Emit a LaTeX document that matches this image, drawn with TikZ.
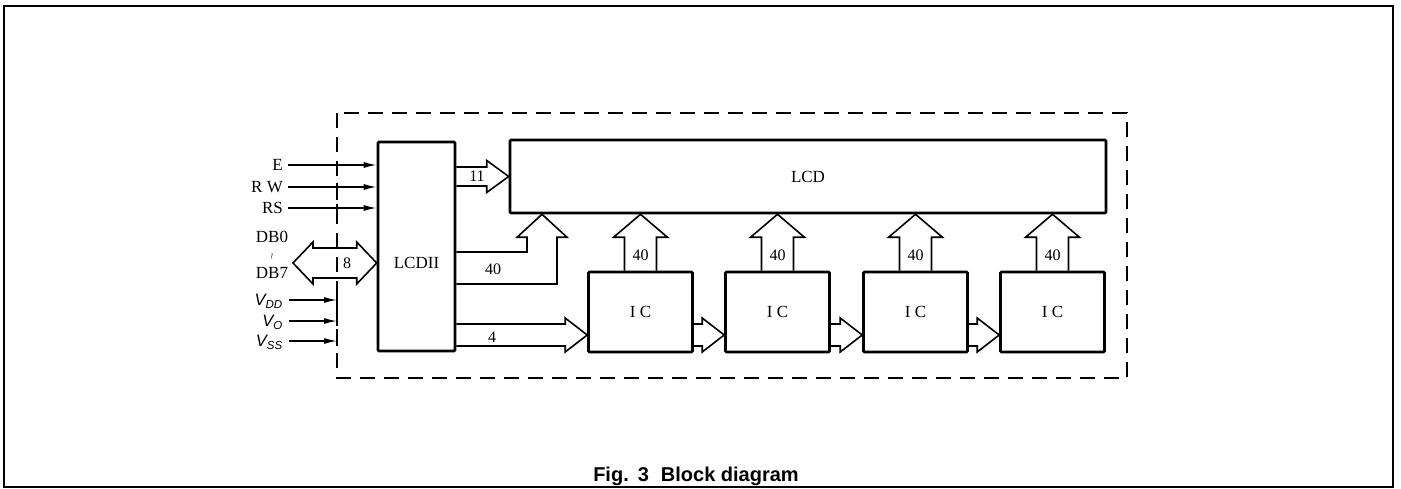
\documentclass[tikz,border=0pt]{standalone}
\usepackage{fontspec}
\setmainfont{Liberation Serif}
\setsansfont{Liberation Sans}
\usetikzlibrary{calc,arrows.meta}
\newcommand\rbus[5]{% #1 src, #2 tgt, #3 y-ref, #4 shaft half, #5 head half
  \draw[bus] ($(#1.east |- #3)+(0,-#4)$) -- ($(#2.west |- #3)+(-22,-#4)$) -- ($(#2.west |- #3)+(-22,-#5)$) -- (#2.west |- #3) -- ($(#2.west |- #3)+(-22,#5)$) -- ($(#2.west |- #3)+(-22,#4)$) -- ($(#1.east |- #3)+(0,#4)$);}
\newcommand\ubus[2]{% #1 src below, #2 tgt above
  \draw[bus] ($(#1.north)+(-16,0)$) -- ($(#1.north |- #2.south)+(-16,23)$) -- ($(#1.north |- #2.south)+(-27,23)$) -- (#1.north |- #2.south) -- ($(#1.north |- #2.south)+(27,23)$) -- ($(#1.north |- #2.south)+(16,23)$) -- ($(#1.north)+(16,0)$);
  \node[num] (#1n) at ($(#1.north)+(0,-15)$) {40};}
\begin{document}
\begin{tikzpicture}[x=1pt,y=-1pt,
  box/.style={draw, line width=2.6pt, inner sep=0pt, rounded corners=1pt},
  bus/.style={draw, line width=1.6pt, line join=miter},
  sig/.style={line width=1.4pt, -{Latex[length=13pt,width=6pt]}},
  tick/.style={line width=1.4pt},
  lab/.style={font=\fontsize{17}{19}\selectfont, inner sep=1pt},
  vlab/.style={font=\sffamily\itshape\fontsize{16.5}{19}\selectfont, inner sep=1pt},
  num/.style={font=\fontsize{16}{18}\selectfont, inner sep=0pt}]
\useasboundingbox (0,0) rectangle (1401,489);
\fill[white] (0,0) rectangle (1401,489);
% outer frame
\draw[line width=2pt] (4,6) rectangle (1393,487);
% dashed module border
\draw[line width=1.6pt, dash pattern=on 15pt off 9pt] (337,113) rectangle (1127,378);
% boxes
\node[box, minimum width=77pt, minimum height=209pt] (lcdii) at (416.5,246.5) {};
\node[lab] (lcdiit) at (416.5,263) {LCDII};
\node[box, minimum width=596pt, minimum height=73pt, lab] (lcd) at (808,176.5) {LCD};
\node[box, minimum width=104pt, minimum height=80pt, lab] (ic1) at (640.5,312) {I C};
\node[box, minimum width=104pt, minimum height=80pt, lab] (ic2) at (777.5,312) {I C};
\node[box, minimum width=104pt, minimum height=80pt, lab] (ic3) at (915.5,312) {I C};
\node[box, minimum width=104pt, minimum height=80pt, lab] (ic4) at (1052.5,312) {I C};
% reference levels
\coordinate (y11) at (0,176.5);
\coordinate (yb) at (0,335);
\coordinate (yA) at (0,252);
\coordinate (yB) at (0,284);
\coordinate (c40) at (542,0);
% buses
\rbus{lcdii}{lcd}{y11}{9.5}{16}
\node[num] (n11) at (477,176.5) {11};
\draw[bus] (lcdii.east |- yA) -- ($(c40 |- yA)+(-15,0)$) -- ($(c40 |- lcd.south)+(-15,23)$) -- ($(c40 |- lcd.south)+(-25,23)$) -- (c40 |- lcd.south) -- ($(c40 |- lcd.south)+(25,23)$) -- ($(c40 |- lcd.south)+(15,23)$) -- ($(c40 |- yB)+(15,0)$) -- (lcdii.east |- yB);
\node[num] (n40) at (493,269) {40};
\rbus{lcdii}{ic1}{yb}{11}{17}
\node[num] (n4) at (492,337) {4};
\rbus{ic1}{ic2}{yb}{11}{17}
\rbus{ic2}{ic3}{yb}{11}{17}
\rbus{ic3}{ic4}{yb}{11}{17}
\ubus{ic1}{lcd}
\ubus{ic2}{lcd}
\ubus{ic3}{lcd}
\ubus{ic4}{lcd}
% control inputs
\coordinate (yE) at (0,165);
\coordinate (yRW) at (0,187);
\coordinate (yRS) at (0,208);
\coordinate (bx) at (337,0);
\node[lab, anchor=base east] (E) at (284,170.6) {E};
\node[lab, anchor=base east] (RW) at (284,192.6) {R W};
\node[lab, anchor=base east] (RS) at (284,213.6) {RS};
\draw[sig] ($(E.east |- yE)+(4,0)$) -- (lcdii.west |- yE);
\draw[sig] ($(RW.east |- yRW)+(4,0)$) -- (lcdii.west |- yRW);
\draw[sig] ($(RS.east |- yRS)+(4,0)$) -- (lcdii.west |- yRS);
\foreach \yy in {yE,yRW,yRS} \draw[tick] ($(bx |- \yy)+(0,-4)$) -- ($(bx |- \yy)+(0,4)$);
% data bus
\node[lab, inner sep=0pt] (db0) at (272,237) {DB0};
\node[inner sep=0pt, font=\small] (dbs) at (272,256) {$\wr$};
\node[lab, inner sep=0pt] (db7) at (272,273) {DB7};
\coordinate (dbl) at (293,263);
\draw[bus] (dbl -| lcdii.west) -- +(-20,-21) -- +(-20,-15) -- ($(dbl)+(20,-15)$) -- ($(dbl)+(20,-21)$) -- (dbl) -- ($(dbl)+(20,21)$) -- ($(dbl)+(20,15)$) -- ($(dbl -| lcdii.west)+(-20,15)$) -- ($(dbl -| lcdii.west)+(-20,21)$) -- cycle;
\node[num] (n8) at (347,263) {8};
% supplies
\coordinate (vddb) at (337,300);
\coordinate (vob) at (337,321);
\coordinate (vssb) at (337,341);
\node[vlab, anchor=base east] (vdd) at (284,305.8) {V\textsubscript{DD}};
\node[vlab, anchor=base east] (vo) at (284,326.8) {V\textsubscript{O}};
\node[vlab, anchor=base east] (vss) at (284,346.8) {V\textsubscript{SS}};
\draw[sig] ($(vdd.east |- vddb)+(5,0)$) -- (vddb);
\draw[sig] ($(vo.east |- vob)+(5,0)$) -- (vob);
\draw[sig] ($(vss.east |- vssb)+(5,0)$) -- (vssb);
\foreach \pp in {vddb,vob,vssb} \draw[tick] ($(\pp)+(0,-5)$) -- ($(\pp)+(0,5)$);
% caption
\node[font=\sffamily\bfseries\fontsize{20}{22}\selectfont, anchor=base, inner sep=0pt] (cap) at (696,481) {Fig.\hspace{0.45em}3\hspace{0.6em}Block diagram};
\end{tikzpicture}
\end{document}
